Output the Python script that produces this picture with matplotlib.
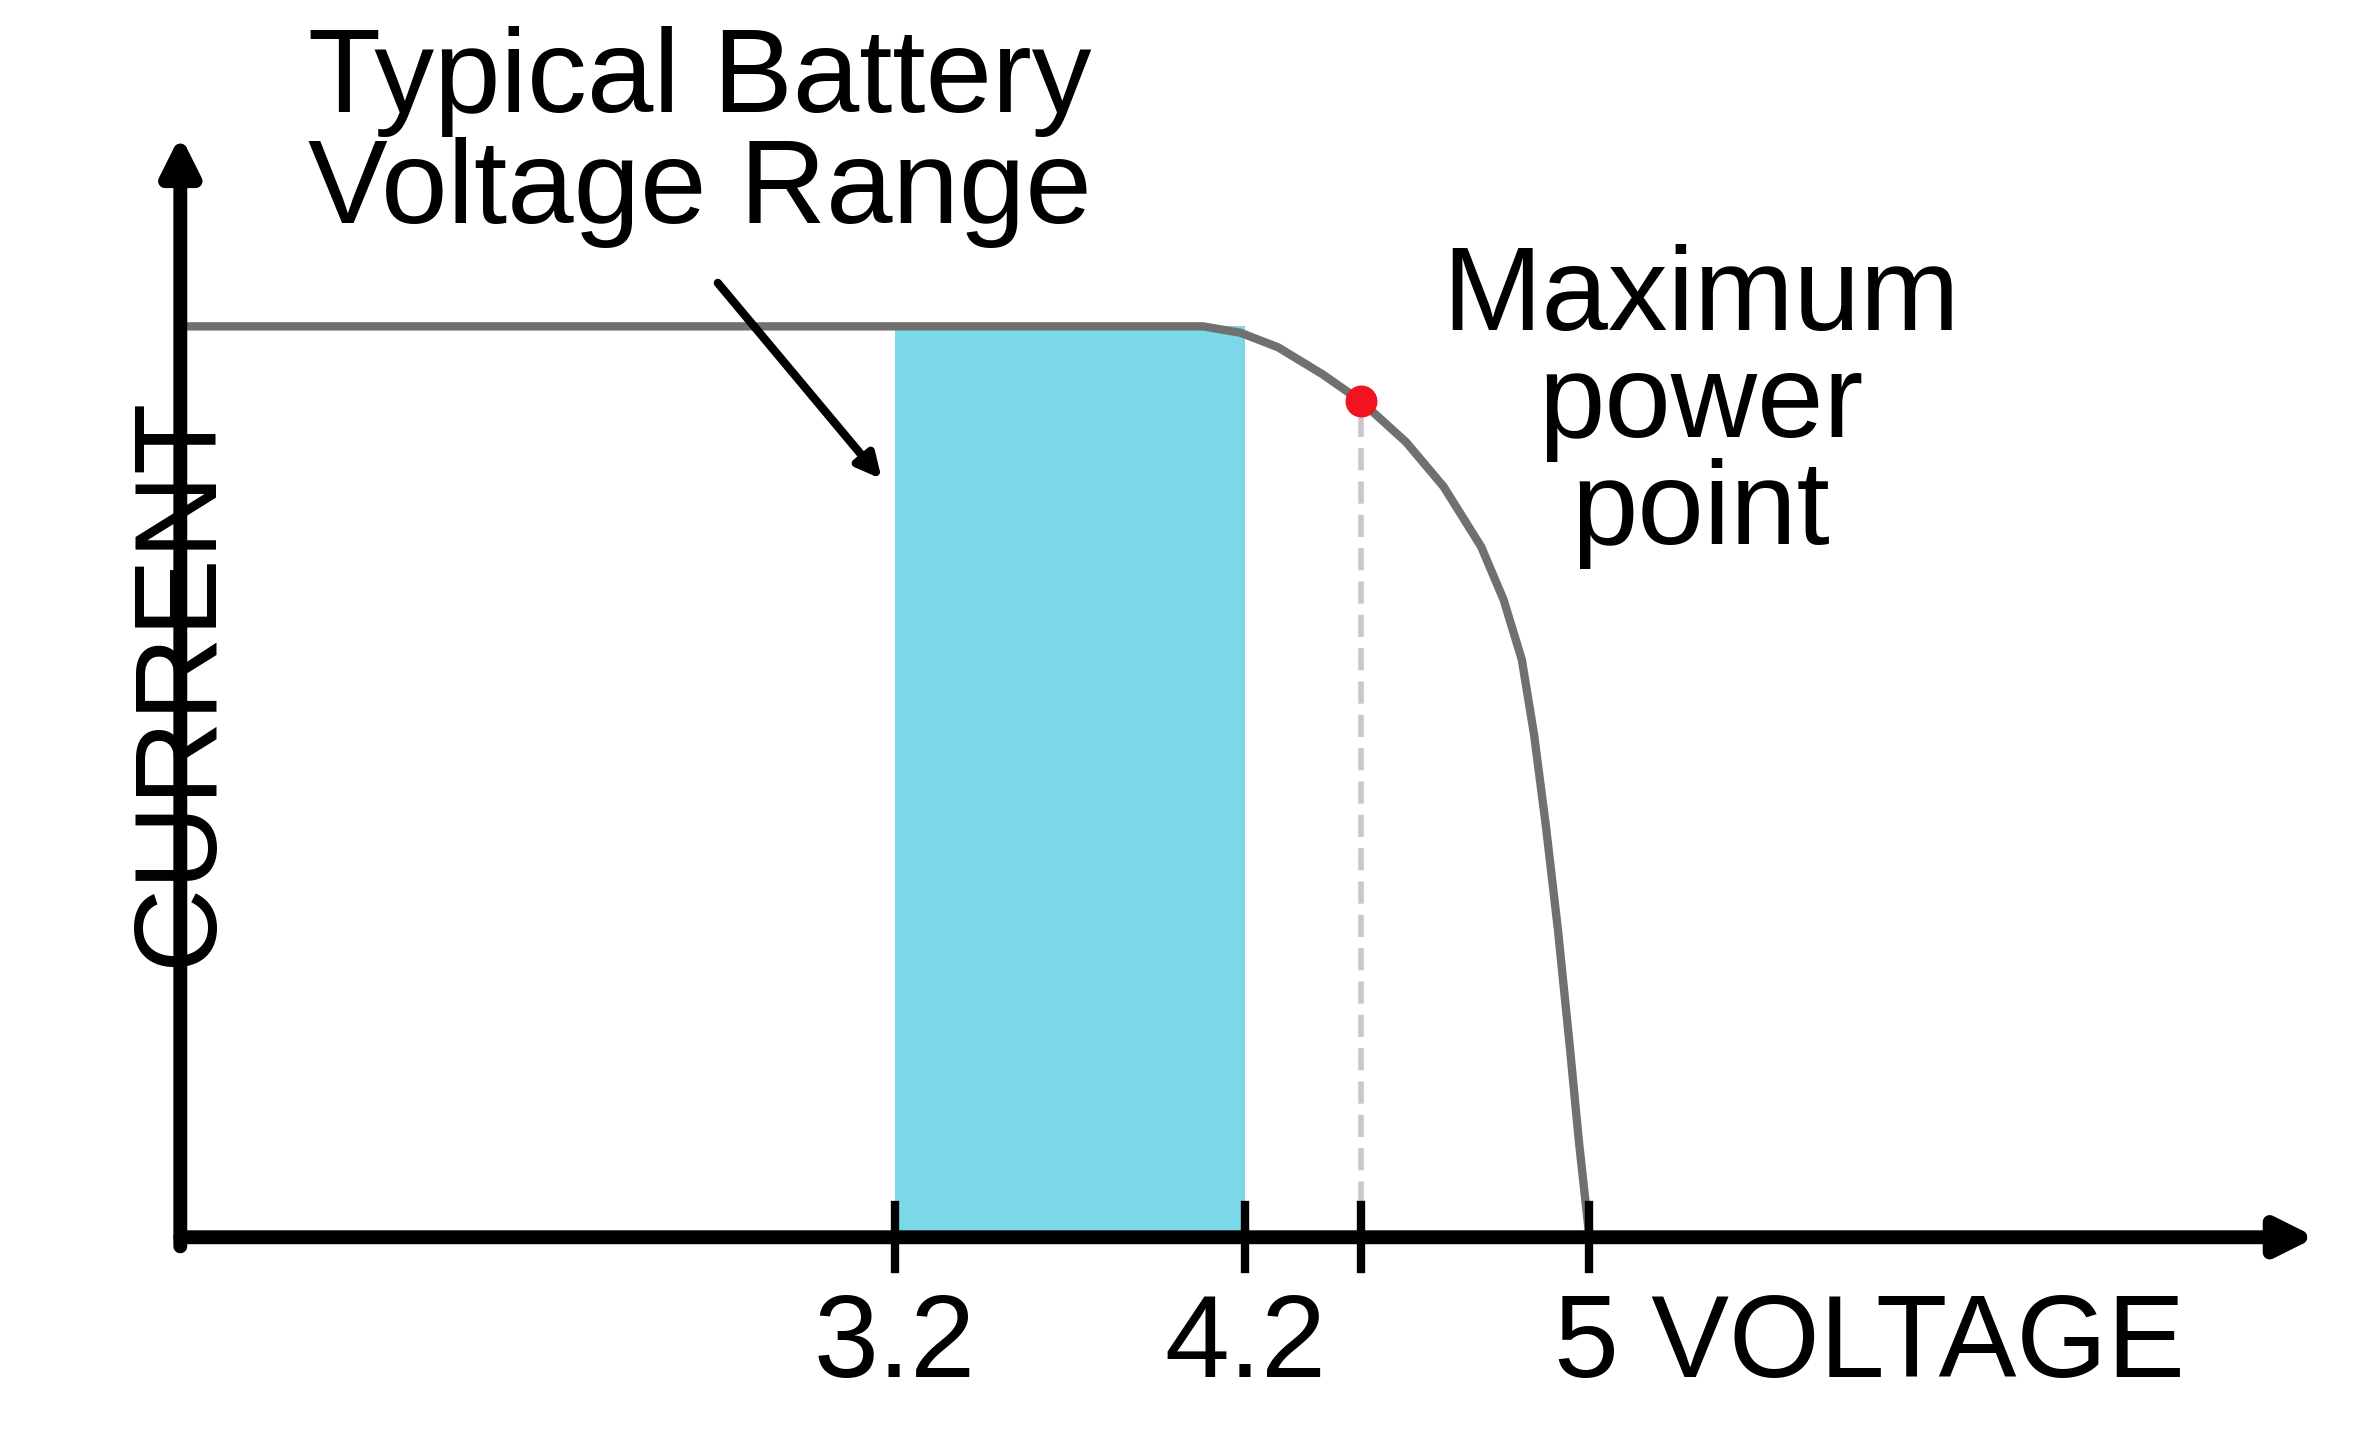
import numpy as np
import matplotlib.pyplot as plt
from matplotlib.scale import FuncScale

plt.rcParams['font.family'] = ['Liberation Sans', 'DejaVu Sans']

# I-V curve of a solar cell (voltage in V, current normalised to Isc)
voltage = [0.0, 4.08, 4.187, 4.30, 4.436, 4.55, 4.639, 4.713, 4.787, 4.831,
           4.867, 4.891, 4.914, 4.938, 4.962, 4.979, 5.0]
current = [1.0, 1.0, 0.993, 0.977, 0.947, 0.918, 0.873, 0.824, 0.758, 0.700,
           0.634, 0.552, 0.453, 0.338, 0.206, 0.107, 0.0]
battery_range = [3.2, 4.2]
mpp_v, mpp_i = 4.55, 0.918
tick_vals = [3.2, 4.2, 4.55, 5.0]

# the drawing is not to scale: piecewise mapping of voltage to position
knots_v = [0.0, 3.2, 4.2, 4.55, 5.0, 6.5]
knots_p = [120, 595, 828, 905, 1057, 1540]
fwd = lambda v: np.interp(v, knots_v, knots_p)
inv = lambda p: np.interp(p, knots_p, knots_v)

fig = plt.figure(figsize=(23.57, 14.37), dpi=100)
ax = fig.add_axes([0.0765, 0.139, 0.906, 0.767])
ax.set_xscale(FuncScale(ax, (fwd, inv)))
ax.set_xlim(0, 6.5)
ax.set_ylim(0, 1.21)
for s in ax.spines.values():
    s.set_visible(False)
ax.set_xticks([])
ax.set_yticks([])

ax.fill_between(battery_range, 0, 1.0, color='#7ad8e8', lw=0)
ax.plot(voltage, current, color='#707070', lw=6, solid_joinstyle='round',
        solid_capstyle='butt')
ax.plot([mpp_v, mpp_v], [0, mpp_i], color='#c8c8c8', lw=4, ls=(0, (4, 2)))
ax.plot(mpp_v, mpp_i, 'o', color='#f0141e', ms=22, zorder=5)

# axes with arrows
head = '-|>,head_width=1.1,head_length=2.2'
ax.annotate('', xy=(0.0, 1.21), xytext=(0.0, -0.01),
            arrowprops=dict(arrowstyle=head, lw=10, color='black',
                            shrinkA=0, shrinkB=0), annotation_clip=False)
ax.annotate('', xy=(6.5, 0.0), xytext=(-0.02, 0.0),
            arrowprops=dict(arrowstyle=head, lw=10, color='black',
                            shrinkA=0, shrinkB=0), annotation_clip=False)
for v in tick_vals:
    ax.plot([v, v], [-0.035, 0.035], color='black', lw=6, clip_on=False)

ax.text(3.2, -0.06, '3.2', ha='center', va='top', fontsize=84)
ax.text(4.2, -0.06, '4.2', ha='center', va='top', fontsize=84)
ax.text(4.93, -0.06, '5 VOLTAGE', ha='left', va='top', fontsize=84)
ax.text(-1.25, 0.61, 'CURRENT', rotation=90, ha='center', va='center', fontsize=84)

ax.text(0.57, 1.33, 'Typical Battery\nVoltage Range', ha='left', va='top',
        fontsize=86, linespacing=1.0, clip_on=False)
ax.annotate('', xy=(3.15, 0.83), xytext=(2.40, 1.05),
            arrowprops=dict(arrowstyle='-|>,head_width=0.7,head_length=1.4',
                            lw=6, color='black'))
ax.text(5.23, 1.09, 'Maximum\npower\npoint', ha='center', va='top',
        fontsize=86, linespacing=0.95)

fig.savefig('out.png', dpi=100)
